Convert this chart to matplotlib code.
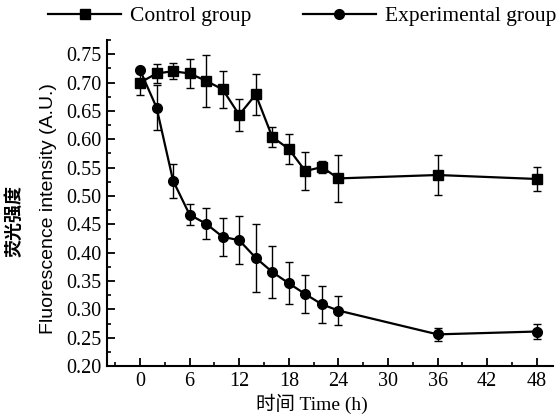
import matplotlib
matplotlib.use("Agg")
import matplotlib.pyplot as plt
from matplotlib.lines import Line2D
from matplotlib.ticker import MultipleLocator, FormatStrFormatter

# time points (h)
hours = [0, 2, 4, 6, 8, 10, 12, 14, 16, 18, 20, 22, 24, 36, 48]

control = [0.700, 0.716, 0.720, 0.716, 0.703, 0.688, 0.643, 0.679,
           0.604, 0.583, 0.544, 0.551, 0.531, 0.537, 0.530]
control_err = [0.022, 0.017, 0.014, 0.025, 0.046, 0.032, 0.028, 0.036,
               0.017, 0.026, 0.034, 0.010, 0.041, 0.035, 0.021]

experimental = [0.722, 0.656, 0.527, 0.467, 0.451, 0.428, 0.422, 0.391,
                0.366, 0.346, 0.327, 0.309, 0.298, 0.256, 0.261]
experimental_err = [0.0, 0.040, 0.030, 0.019, 0.027, 0.033, 0.042, 0.060,
                    0.045, 0.037, 0.033, 0.033, 0.025, 0.011, 0.013]

serif = ['Liberation Serif', 'Noto Sans CJK SC', 'DejaVu Sans']
sans = ['Liberation Sans', 'Noto Sans CJK SC', 'DejaVu Sans']

fig = plt.figure(figsize=(5.6, 4.17), dpi=100)
ax = fig.add_axes([0.191, 0.122, 0.797, 0.782])

ax.errorbar(hours, control, yerr=control_err, marker='s', markersize=6.5,
            color='black', linewidth=1.6, elinewidth=1.0, capsize=3,
            capthick=1.0)
ax.errorbar(hours, experimental, yerr=experimental_err, marker='o',
            markersize=7, color='black', linewidth=1.6, elinewidth=1.0,
            capsize=3, capthick=1.0)

ax.set_xlim(-4, 50)
ax.set_ylim(0.20, 0.775)
ax.xaxis.set_major_locator(MultipleLocator(6))
ax.xaxis.set_minor_locator(MultipleLocator(3))
ax.yaxis.set_major_locator(MultipleLocator(0.05))
ax.yaxis.set_minor_locator(MultipleLocator(0.025))
ax.yaxis.set_major_formatter(FormatStrFormatter('%.2f'))

ax.spines['top'].set_visible(False)
ax.spines['right'].set_visible(False)
ax.spines['left'].set_linewidth(1.5)
ax.spines['bottom'].set_linewidth(1.5)
ax.tick_params(which='major', direction='in', length=6, width=1.3, pad=4)
ax.tick_params(which='minor', direction='in', length=3, width=1.2)
for lab in ax.get_xticklabels() + ax.get_yticklabels():
    lab.set_family(serif)
    lab.set_fontsize(14.5)

ax.set_xlabel('时间 Time (h)', family=serif, fontsize=14, labelpad=1)
ax.xaxis.set_label_coords(0.46, -0.085)

# two-line y label, drawn as two texts
fig.text(0.086, 0.50, 'Fluorescence intensity (A.U.)', family=sans,
         fontsize=14, rotation=90, ha='center', va='center')
fig.text(0.025, 0.47, '荧光强度', family=sans, fontsize=13,
         fontweight='bold', rotation=90, ha='center', va='center')

handles = [Line2D([], [], color='black', marker='s', markersize=7,
                  linewidth=1.6),
           Line2D([], [], color='black', marker='o', markersize=7,
                  linewidth=1.6)]
ax.legend(handles, ['Control group', 'Experimental group'],
          loc='lower center', bbox_to_anchor=(0.437, 1.0), ncol=2,
          frameon=False, handlelength=3.4, columnspacing=2.4,
          handletextpad=0.4, borderaxespad=0.25,
          prop={'family': serif, 'size': 15.5})

fig.savefig('out.png', dpi=100)
